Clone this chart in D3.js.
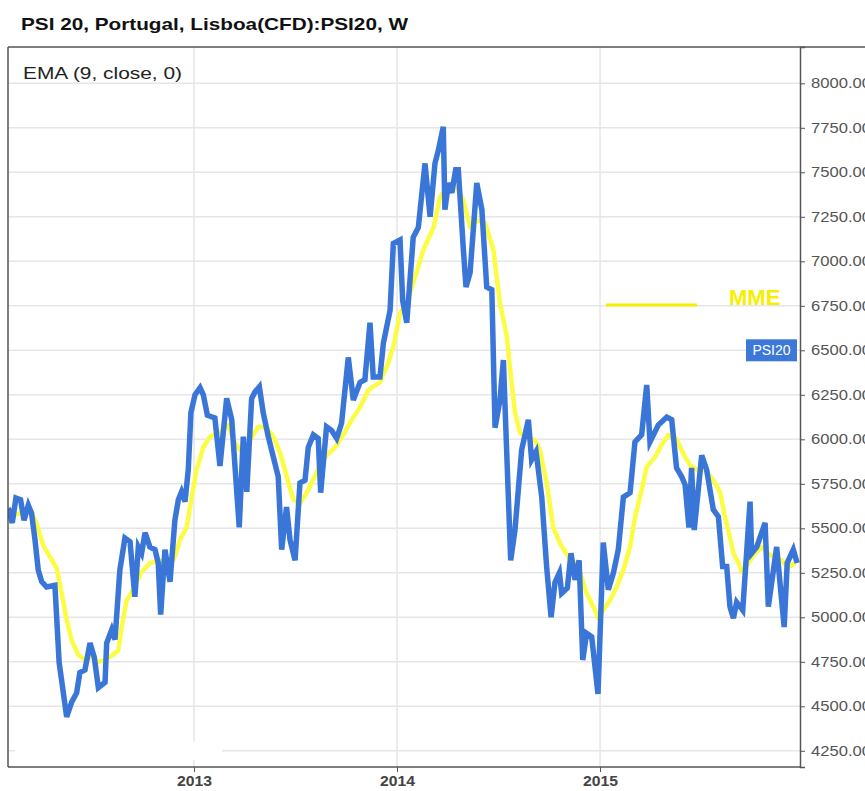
<!DOCTYPE html>
<html>
<head>
<meta charset="utf-8">
<script src="https://cdn.jsdelivr.net/npm/d3@7"></script>
<style>
  body { margin: 0; background: #fff; }
  svg { display: block; font-family: "Liberation Sans", Arial, sans-serif; }
</style>
</head>
<body>
<div id="chart"></div>
<script>
// weekly closes (decimal year, index level)
const psiDates = [
  2012.085, 2012.105, 2012.123, 2012.146, 2012.163, 2012.184, 2012.200, 2012.217, 2012.233, 2012.250,
  2012.274, 2012.315, 2012.336, 2012.373, 2012.398, 2012.422, 2012.438, 2012.463, 2012.488, 2012.509,
  2012.529, 2012.562, 2012.570, 2012.595, 2012.611, 2012.635, 2012.660, 2012.685, 2012.709, 2012.726,
  2012.742, 2012.759, 2012.783, 2012.808, 2012.824, 2012.836, 2012.857, 2012.882, 2012.906, 2012.923,
  2012.939, 2012.956, 2012.972, 2012.985, 2013.005, 2013.030, 2013.046, 2013.066, 2013.103, 2013.128,
  2013.161, 2013.186, 2013.223, 2013.243, 2013.260, 2013.284, 2013.300, 2013.322, 2013.341, 2013.366,
  2013.391, 2013.415, 2013.432, 2013.456, 2013.473, 2013.498, 2013.522, 2013.547, 2013.563, 2013.588,
  2013.612, 2013.624, 2013.653, 2013.678, 2013.703, 2013.727, 2013.760, 2013.785, 2013.818, 2013.842,
  2013.867, 2013.883, 2013.916, 2013.933, 2013.966, 2013.982, 2014.015, 2014.028, 2014.048, 2014.080,
  2014.105, 2014.138, 2014.163, 2014.187, 2014.204, 2014.228, 2014.236, 2014.253, 2014.270, 2014.289,
  2014.302, 2014.327, 2014.340, 2014.360, 2014.393, 2014.418, 2014.442, 2014.467, 2014.483, 2014.507,
  2014.524, 2014.540, 2014.560, 2014.581, 2014.614, 2014.647, 2014.663, 2014.685, 2014.713, 2014.737,
  2014.759, 2014.778, 2014.800, 2014.811, 2014.839, 2014.857, 2014.877, 2014.897, 2014.915, 2014.934,
  2014.959, 2014.990, 2015.016, 2015.041, 2015.066, 2015.090, 2015.115, 2015.148, 2015.172, 2015.205,
  2015.230, 2015.246, 2015.287, 2015.329, 2015.353, 2015.377, 2015.402, 2015.419, 2015.438, 2015.451,
  2015.464, 2015.501, 2015.525, 2015.558, 2015.583, 2015.604, 2015.624, 2015.640, 2015.657, 2015.673,
  2015.703, 2015.739, 2015.747, 2015.772, 2015.813, 2015.829, 2015.870, 2015.907, 2015.922, 2015.952,
  2015.971
];
const psiClose = [
  5615, 5530, 5670, 5660, 5545, 5630, 5585, 5435, 5265, 5200,
  5170, 5180, 4745, 4440, 4525, 4575, 4690, 4705, 4855, 4775,
  4605, 4635, 4855, 4930, 4875, 5265, 5445, 5425, 5115, 5395,
  5360, 5475, 5395, 5380, 5305, 5015, 5380, 5200, 5545, 5660,
  5705, 5650, 5830, 6150, 6250, 6290, 6250, 6135, 6120, 5850,
  6230, 6110, 5505, 6015, 5705, 6230, 6265, 6295, 6150, 6015,
  5900, 5790, 5380, 5620, 5435, 5320, 5755, 5770, 5955, 6025,
  6005, 5700, 6070, 6050, 6005, 6090, 6460, 6220, 6320, 6335,
  6655, 6350, 6350, 6540, 6725, 7100, 7120, 6780, 6655, 7135,
  7190, 7550, 7250, 7550, 7625, 7755, 7290, 7440, 7385, 7515,
  7515, 7065, 6855, 6935, 7440, 7290, 6855, 6840, 6065, 6220,
  6445, 5940, 5320, 5490, 5940, 6110, 5885, 5930, 5675, 5285,
  5000, 5195, 5250, 5135, 5165, 5360, 5210, 5320, 4760, 4910,
  4890, 4570, 5420, 5155, 5250, 5380, 5675, 5700, 5985, 6025,
  6305, 5985, 6080, 6125, 6110, 5840, 5790, 5745, 5505, 5840,
  5490, 5910, 5830, 5605, 5565, 5285, 5285, 5060, 4995, 5085,
  5040, 5650, 5360, 5395, 5530, 5060, 5395, 4945, 5305, 5380,
  5305
];

// EMA (9, close) as drawn in the picture
const emaDates = [
  2012.085, 2012.143, 2012.200, 2012.224, 2012.257, 2012.291, 2012.324, 2012.348, 2012.373, 2012.398,
  2012.430, 2012.463, 2012.496, 2012.529, 2012.562, 2012.602, 2012.627, 2012.644, 2012.668, 2012.701,
  2012.742, 2012.783, 2012.833, 2012.874, 2012.906, 2012.931, 2012.964, 2012.989, 2013.013, 2013.046,
  2013.079, 2013.128, 2013.169, 2013.202, 2013.227, 2013.268, 2013.317, 2013.358, 2013.391, 2013.424,
  2013.457, 2013.490, 2013.522, 2013.563, 2013.604, 2013.653, 2013.695, 2013.736, 2013.777, 2013.818,
  2013.859, 2013.880, 2013.916, 2013.957, 2013.982, 2014.015, 2014.048, 2014.089, 2014.130, 2014.180,
  2014.212, 2014.245, 2014.294, 2014.327, 2014.360, 2014.393, 2014.434, 2014.475, 2014.507, 2014.540,
  2014.565, 2014.581, 2014.606, 2014.639, 2014.680, 2014.704, 2014.737, 2014.770, 2014.803, 2014.844,
  2014.893, 2014.934, 2014.975, 2014.991, 2015.016, 2015.049, 2015.082, 2015.115, 2015.148, 2015.172,
  2015.205, 2015.230, 2015.271, 2015.304, 2015.337, 2015.377, 2015.419, 2015.443, 2015.476, 2015.517,
  2015.558, 2015.591, 2015.616, 2015.640, 2015.657, 2015.682, 2015.698, 2015.731, 2015.764, 2015.797,
  2015.829, 2015.854, 2015.895, 2015.928, 2015.961
];
const emaValues = [
  5560, 5585, 5590, 5530, 5405, 5340, 5275, 5135, 4985, 4870,
  4790, 4760, 4775, 4750, 4760, 4790, 4815, 4945, 5095, 5155,
  5255, 5305, 5320, 5280, 5340, 5435, 5505, 5675, 5830, 5955,
  6015, 6040, 6080, 5980, 5940, 5980, 6070, 6065, 6015, 5925,
  5790, 5660, 5640, 5715, 5815, 5910, 5955, 6025, 6110, 6180,
  6275, 6295, 6320, 6430, 6520, 6710, 6765, 6910, 7065, 7190,
  7360, 7415, 7415, 7345, 7190, 7230, 7215, 7065, 6765, 6585,
  6315, 6150, 6035, 6015, 5995, 5940, 5755, 5505, 5415, 5340,
  5285, 5135, 5040, 4995, 5040, 5095, 5170, 5265, 5395, 5560,
  5715, 5845, 5900, 5970, 6025, 6000, 5900, 5855, 5830, 5830,
  5770, 5705, 5560, 5450, 5360, 5305, 5255, 5305, 5360, 5395,
  5360, 5340, 5320, 5280, 5305
];

const yTicks = [4250, 4500, 4750, 5000, 5250, 5500, 5750, 6000, 6250, 6500, 6750, 7000, 7250, 7500, 7750, 8000];
const yearTicks = [2013, 2014, 2015];

const title = "PSI 20, Portugal, Lisboa(CFD):PSI20, W";
const studyLabel = "EMA (9, close, 0)";
const legendLabel = "MME";
const seriesTag = "PSI20";

const W = 865, H = 791;
const plot = { left: 8, right: 800, top: 47, bottom: 767 };

const svg = d3.select("#chart").append("svg")
  .attr("width", W)
  .attr("height", H);

const x = d3.scaleLinear().domain([2012.084, 2015.985]).range([plot.left, plot.right]);
const y = d3.scaleLinear().domain([4159, 8204]).range([plot.bottom, plot.top]);

// grid
const grid = svg.append("g").attr("stroke", "#e6e6e6").attr("stroke-width", 1.5);
grid.selectAll(".hg").data(yTicks).join("line")
  .attr("x1", plot.left).attr("x2", plot.right)
  .attr("y1", d => y(d)).attr("y2", d => y(d));
grid.selectAll(".vg").data(yearTicks).join("line")
  .attr("x1", d => x(d)).attr("x2", d => x(d))
  .attr("y1", plot.top).attr("y2", plot.bottom);

// blank patch in lower-left corner of the original
svg.append("rect")
  .attr("x", x(2012.118)).attr("y", y(4300))
  .attr("width", x(2013.138) - x(2012.118))
  .attr("height", y(4200) - y(4300))
  .attr("fill", "#fff");

// lines
const ema = emaDates.map((d, i) => [d, emaValues[i]]);
const psi = psiDates.map((d, i) => [d, psiClose[i]]);
const line = d3.line().x(d => x(d[0])).y(d => y(d[1]));

svg.append("clipPath").attr("id", "clip")
  .append("rect")
  .attr("x", plot.left).attr("y", plot.top)
  .attr("width", plot.right - plot.left).attr("height", plot.bottom - plot.top);

const lines = svg.append("g").attr("clip-path", "url(#clip)");
lines.append("path")
  .attr("d", line(ema))
  .attr("fill", "none")
  .attr("stroke", "#fcfc45")
  .attr("stroke-width", 4.5)
  .attr("stroke-linejoin", "round");
lines.append("path")
  .attr("d", line(psi))
  .attr("fill", "none")
  .attr("stroke", "#3a76d7")
  .attr("stroke-width", 5.5)
  .attr("stroke-linejoin", "miter")
  .attr("stroke-miterlimit", 4);

// frame
const frame = svg.append("g").attr("stroke", "#555").attr("stroke-width", 1.5).attr("fill", "none");
frame.append("line").attr("x1", plot.left).attr("x2", W).attr("y1", plot.top).attr("y2", plot.top);
frame.append("line").attr("x1", plot.left).attr("x2", plot.left).attr("y1", plot.top).attr("y2", plot.bottom);
frame.append("line").attr("x1", plot.left).attr("x2", plot.right).attr("y1", plot.bottom).attr("y2", plot.bottom);

// right axis
const yAxis = svg.append("g")
  .attr("transform", `translate(${plot.right},0)`)
  .call(d3.axisRight(y).tickValues(yTicks).tickSize(5).tickPadding(6).tickFormat(d3.format(".2f")));
yAxis.select(".domain").attr("stroke", "#555").attr("stroke-width", 1.5);
yAxis.selectAll(".tick line").attr("stroke", "#555");
yAxis.selectAll(".tick text")
  .attr("fill", "#555")
  .style("font-size", "14px")
  .attr("textLength", 60)
  .attr("lengthAdjust", "spacingAndGlyphs");

// bottom axis
const xAxis = svg.append("g")
  .attr("transform", `translate(0,${plot.bottom})`)
  .call(d3.axisBottom(x).tickValues(yearTicks).tickSize(5).tickPadding(4).tickFormat(d3.format("d")));
xAxis.select(".domain").remove();
xAxis.selectAll(".tick line").attr("stroke", "#555");
xAxis.selectAll(".tick text")
  .attr("fill", "#444")
  .style("font-size", "14px")
  .style("font-weight", "bold")
  .attr("textLength", 35)
  .attr("lengthAdjust", "spacingAndGlyphs");

// title and study label
svg.append("text")
  .attr("x", 21).attr("y", 30)
  .style("font-size", "17px").style("font-weight", "bold")
  .attr("fill", "#111")
  .attr("textLength", 387).attr("lengthAdjust", "spacingAndGlyphs")
  .text(title);

svg.append("text")
  .attr("x", 23).attr("y", 79)
  .style("font-size", "17px")
  .attr("fill", "#222")
  .attr("textLength", 159).attr("lengthAdjust", "spacingAndGlyphs")
  .text(studyLabel);

// legend for the EMA
const legY = y(6755);
svg.append("line")
  .attr("x1", 606).attr("x2", 697)
  .attr("y1", legY).attr("y2", legY)
  .attr("stroke", "#f5f000").attr("stroke-width", 3);
svg.append("text")
  .attr("x", 729).attr("y", legY)
  .style("font-size", "22px").style("font-weight", "bold")
  .attr("fill", "#f7ee00")
  .text(legendLabel);

// series tag on the axis
const tagY = y(6500);
svg.append("rect")
  .attr("x", 746).attr("y", tagY - 11)
  .attr("width", 51).attr("height", 22)
  .attr("fill", "#3c78d8");
svg.append("text")
  .attr("x", 771.5).attr("y", tagY + 5)
  .attr("text-anchor", "middle")
  .style("font-size", "14px")
  .attr("fill", "#fff")
  .text(seriesTag);
</script>
</body>
</html>
